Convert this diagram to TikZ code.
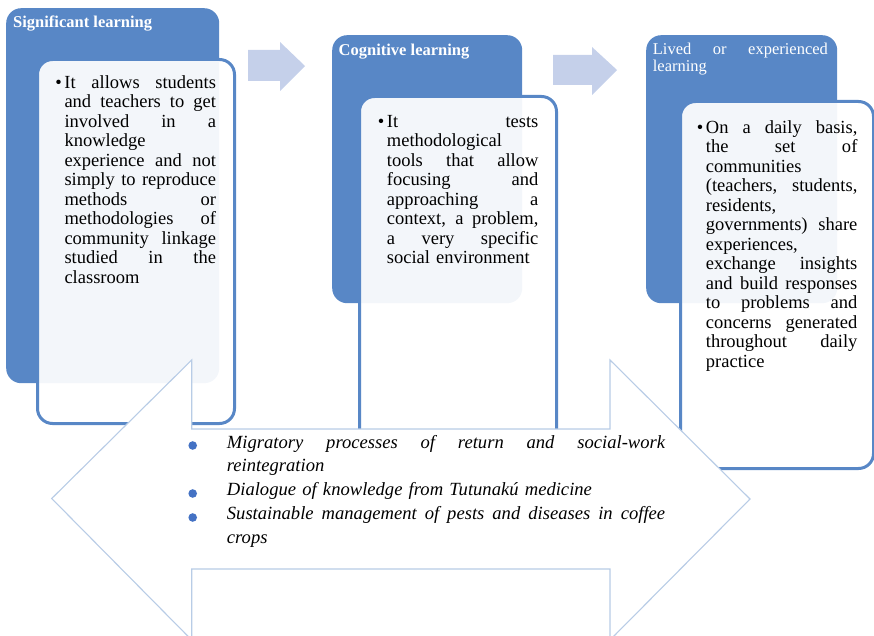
\documentclass[tikz,border=0pt]{standalone}
\usepackage{fontspec}
\setmainfont{Liberation Serif}
\definecolor{panelblue}{RGB}{88,135,198}
\definecolor{stepblue}{RGB}{197,208,234}
\definecolor{outlineblue}{RGB}{184,204,230}
\definecolor{dotblue}{RGB}{68,114,196}
% one justified line: the word spaces are spread over the given width
\newcommand\jl[2][151.5pt]{\leavevmode\hbox to #1{\spaceskip=0.25em plus 1fil\relax
  \xspaceskip=\spaceskip #2}}
% hanging bullet in front of the first line
\newcommand\bul{\leavevmode\llap{\textbullet\hspace{2.6pt}}}
\begin{document}
\begin{tikzpicture}[x=1pt,y=-1pt,
  back/.style={fill=panelblue, rounded corners=15pt, inner sep=0pt, anchor=north west},
  front/.style={draw=panelblue, line width=3pt, fill=white, fill opacity=0.93,
    rounded corners=15pt, inner sep=0pt, anchor=north west},
  stepshape/.style={fill=stepblue},
  bigshape/.style={draw=outlineblue, line width=1.1pt, fill=white},
  title/.style={text=white, inner sep=0pt, anchor=base west},
  body/.style={inner sep=0pt, anchor=base west, text width=151.5pt, align=left,
    font=\fontsize{18.5}{19.5}\selectfont},
  itemtext/.style={inner sep=0pt, anchor=base west, text width=438.3pt, align=left,
    font=\fontsize{18.6}{23.8}\selectfont\itshape},
  itemdot/.style={fill=dotblue}]
\useasboundingbox (0,0) rectangle (874,636);
\clip (0,0) rectangle (874,636);

% three stages: coloured back panel and lighter front card
\node[back, minimum width=213pt, minimum height=375pt] (b1) at (6,8) {};
\node[front, minimum width=197pt, minimum height=364pt] (f1) at (36,58) {};
\node[back, minimum width=190pt, minimum height=268pt] (b2) at (332,35) {};
\node[front, minimum width=197pt, minimum height=375pt] (f2) at (358,95) {};
\node[back, minimum width=191pt, minimum height=268pt] (b3) at (646,35) {};
\node[front, minimum width=193pt, minimum height=367pt] (f3) at (679,100) {};

% arrows leading from one stage to the next
\fill[stepshape] (248,50) -- (280,50) -- (280,42) -- (305,66) -- (280,91)
  -- (280,81) -- (248,81) -- cycle;
\fill[stepshape] (553,55) -- (592,55) -- (592,47) -- (617,70) -- (592,95)
  -- (592,85) -- (553,85) -- cycle;

% double-headed arrow carrying the lines of work
\draw[bigshape] (51.7,498.5) -- (191.7,360) -- (191.7,429) -- (610,429)
  -- (610,360) -- (750,499) -- (610,640) -- (610,569) -- (191.7,569)
  -- (191.7,640) -- cycle;

% stage titles
\node[title, font=\fontsize{16.5}{17}\selectfont\bfseries] (h1) at (13,27.5) {Significant learning};
\node[title, font=\fontsize{16.5}{17}\selectfont\bfseries] (h2) at (338.5,55.5) {Cognitive learning};
\node[title, text width=175pt, align=left, font=\fontsize{16.5}{17}\selectfont] (h3) at (652.7,55)
  {\jl[175pt]{Lived or experienced}\\learning};

% stage descriptions
\node[body] (t1) at (64.3,88.3) {\bul\jl{It allows students}\\
  \jl{and teachers to get}\\
  \jl{involved in a}\\
  knowledge\\
  \jl{experience and not}\\
  \jl{simply to reproduce}\\
  \jl{methods or}\\
  \jl{methodologies of}\\
  \jl{community linkage}\\
  \jl{studied in the}\\
  classroom};
\node[body] (t2) at (386.7,127.3) {\bul\jl{It tests}\\
  methodological\\
  \jl{tools that allow}\\
  \jl{focusing and}\\
  \jl{approaching a}\\
  \jl{context, a problem,}\\
  \jl{a very specific}\\
  social environment};
\node[body] (t3) at (705.7,133.3) {\bul\jl{On a daily basis,}\\
  \jl{the set of}\\
  communities\\
  \jl{(teachers, students,}\\
  residents,\\
  \jl{governments) share}\\
  experiences,\\
  \jl{exchange insights}\\
  \jl{and build responses}\\
  \jl{to problems and}\\
  \jl{concerns generated}\\
  \jl{throughout daily}\\
  practice};

% lines of work inside the double arrow
\node[itemtext] (l1) at (226.7,448) {\jl[438.3pt]{Migratory processes of return and social-work}\\
  reintegration\\
  Dialogue of knowledge from Tutunakú medicine\\
  \jl[438.3pt]{Sustainable management of pests and diseases in coffee}\\
  crops};
\coordinate (d1) at (192.7,445.5);
\coordinate (d2) at (192.7,493.5);
\coordinate (d3) at (192.7,517.5);
\foreach \d in {d1,d2,d3} \fill[itemdot] (\d) circle[radius=4.3pt];
\end{tikzpicture}
\end{document}
